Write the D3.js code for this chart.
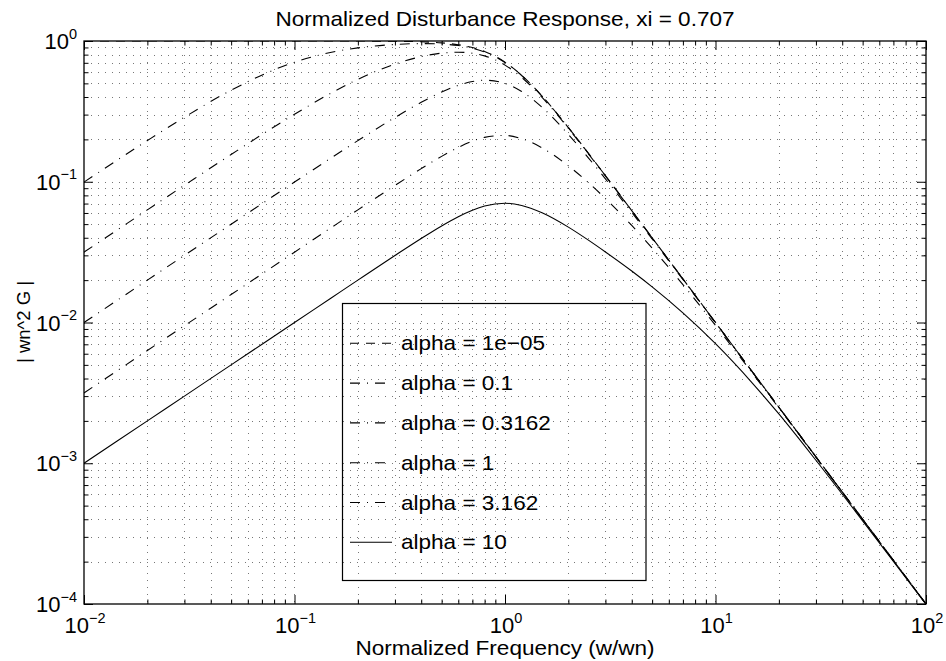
<!DOCTYPE html>
<html>
<head>
<meta charset="utf-8">
<script src="https://cdn.jsdelivr.net/npm/d3@7"></script>
<style>
body{margin:0;background:#fff;}
text{font-family:"Liberation Sans",Arial,Helvetica,sans-serif;fill:#000;}
</style>
</head>
<body>
<svg id="chart" width="946" height="661"></svg>
<script>
// values (|wn^2 G| vs w/wn)
var freqs = [0.01,0.02,0.03,0.05,0.1,0.15,0.2,0.3,0.4,0.5,0.6,0.7,0.8,1,1.2,1.5,2,2.5,3,4,5,7,10,15,20,30,50,100];
var mag1e5 = [1,1,1,1,1,0.9997,0.9992,0.996,0.9875,0.9701,0.9409,0.8982,0.843,0.7071,0.5704,0.4061,0.2425,0.158,0.1104,0.0624,0.03997,0.0204,0.01,0.004444,0.0025,0.001111,0.0004,0.0001];
var mag01 = [0.0995,0.1961,0.2873,0.4472,0.7071,0.832,0.8937,0.9449,0.958,0.9513,0.9281,0.8892,0.8365,0.7036,0.5684,0.4052,0.2422,0.1579,0.1104,0.0624,0.03996,0.0204,0.01,0.004444,0.0025,0.001111,0.0004,0.0001];
var mag03162 = [0.0316,0.0631,0.0944,0.1562,0.3015,0.4285,0.5341,0.6854,0.7747,0.82,0.8324,0.8186,0.784,0.6742,0.5516,0.3974,0.2396,0.1567,0.1098,0.0622,0.0399,0.0204,0.00999,0.004443,0.0025,0.001111,0.0004,0.0001];
var mag1 = [0.01,0.02,0.03,0.0499,0.0995,0.1483,0.196,0.2862,0.3667,0.4338,0.4841,0.5151,0.5266,0.5,0.4382,0.338,0.2169,0.1467,0.1048,0.0605,0.0392,0.0202,0.00995,0.004435,0.0025,0.00111,0.0004,0.0001];
var mag3162 = [0.00316,0.00632,0.00949,0.0158,0.0316,0.04738,0.0631,0.0941,0.1239,0.1515,0.1754,0.1941,0.2068,0.2132,0.2024,0.1741,0.1296,0.098,0.076,0.0489,0.0338,0.0186,0.00953,0.004349,0.00247,0.001105,0.0004,0.0001];
var mag10 = [0.001,0.002,0.003,0.005,0.01,0.015,0.02,0.0299,0.0395,0.0485,0.0564,0.0627,0.0672,0.0704,0.0679,0.0602,0.0476,0.0383,0.0317,0.0232,0.0179,0.0117,0.00707,0.0037,0.00224,0.00105,0.00039,0.0000995];

var legendLabels = ["alpha = 1e\u221205","alpha = 0.1","alpha = 0.3162","alpha = 1","alpha = 3.162","alpha = 10"];
var xTickVals = [0.01,0.1,1,10,100];
var xTickExp = ["\u22122","\u22121","0","1","2"];
var yTickVals = [1,0.1,0.01,0.001,0.0001];
var yTickExp = ["0","\u22121","\u22122","\u22123","\u22124"];

var series = [mag1e5, mag01, mag03162, mag1, mag3162, mag10];
var dashes = ["9,7", "10,7,1,7", "10,7,1,7", "10,7,1,7", "10,7,1,7", null];

var L = 84, R = 926, T = 41, B = 604;
var TXS = 1.1; // text looks a bit wide in the picture

var svg = d3.select("#chart");
var x = d3.scaleLog().domain([0.01,100]).range([L,R]);
var y = d3.scaleLog().domain([1e-4,1]).range([B,T]);

function minors(lo, hi){
    var out = [];
    for (var e = lo; e < hi; e++) for (var k = 2; k <= 9; k++) out.push(k*Math.pow(10,e));
    return out;
}
var xGrid = minors(-2,2).concat([0.1,1,10]);
var yGrid = minors(-4,0).concat([0.001,0.01,0.1]);

// dotted grid
var grid = svg.append("g").attr("stroke","#777").attr("stroke-width",1)
    .attr("stroke-dasharray","1,6").attr("shape-rendering","crispEdges");
grid.selectAll(".gx").data(xGrid).enter().append("line")
    .attr("x1",d=>Math.round(x(d))+0.5).attr("x2",d=>Math.round(x(d))+0.5)
    .attr("y1",T).attr("y2",B);
grid.selectAll(".gy").data(yGrid).enter().append("line")
    .attr("y1",d=>Math.round(y(d))+0.5).attr("y2",d=>Math.round(y(d))+0.5)
    .attr("x1",L).attr("x2",R);

// ticks, inward on all four sides
function tickAxis(axisFn, scale, vals, size, tr){
    svg.append("g").attr("transform",tr)
        .call(axisFn(scale).tickValues(vals).tickSizeInner(-size).tickSizeOuter(0).tickFormat(""))
        .call(g=>g.select(".domain").remove());
}
var xMin = minors(-2,2), yMin = minors(-4,0);
tickAxis(d3.axisBottom, x, xTickVals, 9, "translate(0,"+B+")");
tickAxis(d3.axisBottom, x, xMin, 4.5, "translate(0,"+B+")");
tickAxis(d3.axisTop, x, xTickVals, 9, "translate(0,"+T+")");
tickAxis(d3.axisTop, x, xMin, 4.5, "translate(0,"+T+")");
tickAxis(d3.axisLeft, y, yTickVals, 9, "translate("+L+",0)");
tickAxis(d3.axisLeft, y, yMin, 4.5, "translate("+L+",0)");
tickAxis(d3.axisRight, y, yTickVals, 9, "translate("+R+",0)");
tickAxis(d3.axisRight, y, yMin, 4.5, "translate("+R+",0)");

svg.append("rect").attr("x",L).attr("y",T).attr("width",R-L).attr("height",B-T)
    .attr("fill","none").attr("stroke","#000").attr("stroke-width",1.3);

// curves
svg.append("clipPath").attr("id","clip").append("rect")
    .attr("x",L).attr("y",T).attr("width",R-L).attr("height",B-T);
var line = d3.line().x(d=>x(d[0])).y(d=>y(d[1])).curve(d3.curveMonotoneX);
var curves = svg.append("g").attr("clip-path","url(#clip)");
series.forEach(function(s,i){
    curves.append("path").datum(freqs.map((f,j)=>[f,s[j]]))
        .attr("d",line).attr("fill","none").attr("stroke","#000").attr("stroke-width",1.1)
        .attr("stroke-dasharray",dashes[i]);
});

// tick labels
function powLabel(px, py, anchor, exp){
    var t = svg.append("text").attr("x",px).attr("y",py).attr("text-anchor",anchor).style("font-size","22px");
    t.append("tspan").text("10");
    t.append("tspan").attr("dy",-10.5).style("font-size","14.5px").text(exp);
}
xTickVals.forEach((v,i)=>powLabel(x(v)+1, 633, "middle", xTickExp[i]));
yTickVals.forEach((v,i)=>powLabel(77, y(v)+8, "end", yTickExp[i]));

function label(str, px, py, anchor, fs){
    svg.append("text").attr("transform","translate("+px+","+py+") scale("+TXS+",1)")
        .attr("text-anchor",anchor).style("font-size",fs+"px").text(str);
}
label("Normalized Disturbance Response, xi = 0.707", 505, 26, "middle", 20.5);
label("Normalized Frequency (w/wn)", 505, 655, "middle", 20.5);
svg.append("text").attr("transform","translate(30,322) rotate(-90)")
    .attr("text-anchor","middle").style("font-size","18.5px").text("| wn^2 G |");

// legend (no fill, grid shows through)
var lg = svg.append("g");
lg.append("rect").attr("x",342.5).attr("y",303.5).attr("width",303.5).attr("height",277)
    .attr("fill","none").attr("stroke","#000").attr("stroke-width",1.2);
legendLabels.forEach(function(s,i){
    var ly = 343.3 + i*39.8;
    lg.append("line").attr("x1",350).attr("x2",392).attr("y1",ly).attr("y2",ly)
        .attr("stroke","#000").attr("stroke-width",1.1).attr("stroke-dasharray",dashes[i]);
    label(s, 401, ly+7, "start", 20.5);
});
</script>
</body>
</html>
